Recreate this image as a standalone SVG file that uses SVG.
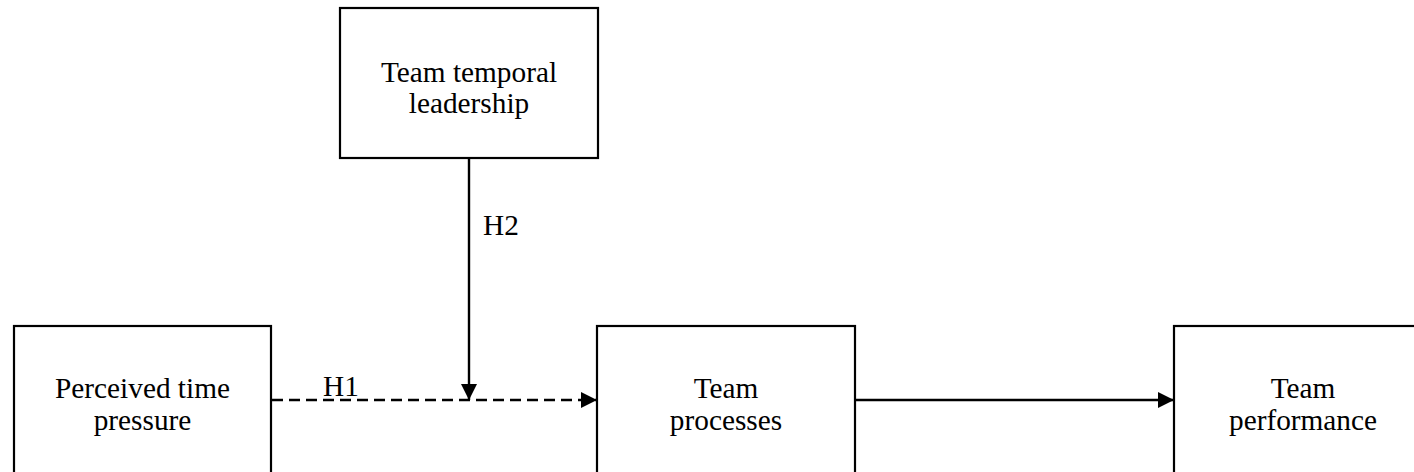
<svg xmlns="http://www.w3.org/2000/svg" width="1414" height="472" viewBox="0 0 1414 472">
<defs>
<style>
.box{fill:#fff;stroke:#000;stroke-width:2.2}
.t{font-family:'Liberation Serif','Times New Roman',Tinos,'DejaVu Serif',serif;font-size:29.3px;fill:#000;text-anchor:middle}
.lbl{font-family:'Liberation Serif','Times New Roman',Tinos,'DejaVu Serif',serif;font-size:29.3px;fill:#000}
.c{stroke:#000;stroke-width:2.4;fill:none}
.d{stroke-dasharray:11 6}
</style>
<marker id="ah" viewBox="0 0 16 16" refX="16" refY="8" markerWidth="16" markerHeight="16" markerUnits="userSpaceOnUse" orient="auto">
<path d="M0,0 L16,8 L0,16 Z" fill="#000"/>
</marker>
</defs>
<rect width="1414" height="472" fill="#fff"/>
<g id="n-leadership">
<rect class="box" x="340" y="8" width="258" height="150"/>
<text class="t" x="469" y="82" font-family="Liberation Serif, serif">Team temporal</text>
<text class="t" x="469" y="113" font-family="Liberation Serif, serif">leadership</text>
</g>
<g id="n-pressure">
<rect class="box" x="14" y="326" width="257" height="160"/>
<text class="t" x="142.5" y="398">Perceived time</text>
<text class="t" x="142.5" y="430">pressure</text>
</g>
<g id="n-processes">
<rect class="box" x="597" y="326" width="258" height="160"/>
<text class="t" x="726" y="398">Team</text>
<text class="t" x="726" y="430">processes</text>
</g>
<g id="n-performance">
<rect class="box" x="1174" y="326" width="258" height="160"/>
<text class="t" x="1303" y="398">Team</text>
<text class="t" x="1303" y="430">performance</text>
</g>
<g id="connectors">
<line class="c d" x1="272" y1="400" x2="597" y2="400" marker-end="url(#ah)"/>
<line class="c" x1="856" y1="400" x2="1174" y2="400" marker-end="url(#ah)"/>
<line class="c" x1="469" y1="159" x2="469" y2="400" marker-end="url(#ah)"/>
<text class="lbl" x="323" y="396">H1</text>
<text class="lbl" x="483" y="235">H2</text>
</g>
</svg>
